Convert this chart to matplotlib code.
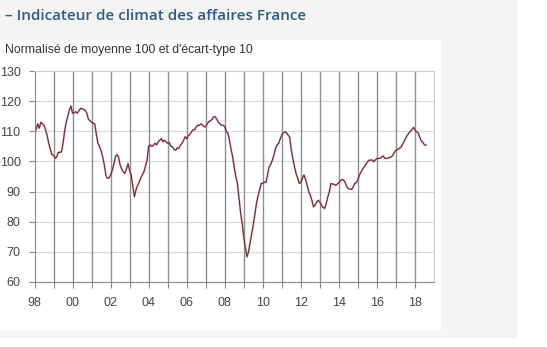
import matplotlib
matplotlib.use("Agg")
import matplotlib.pyplot as plt
from matplotlib.patches import Rectangle
import numpy as np

# Monthly business climate indicator, Jan 1998 - Aug 2018
values = [
    # 1998
    108.5, 110.5, 112.5, 111.0, 113.0, 112.5, 112.0, 110.5, 108.5, 106.0, 104.0, 102.3,
    # 1999
    102.0, 101.0, 101.5, 103.0, 103.0, 103.2, 106.0, 110.0, 113.0, 115.0, 117.0, 118.4,
    # 2000
    116.0, 116.2, 116.5, 116.0, 116.8, 117.6, 117.5, 117.2, 117.0, 116.0, 114.0, 113.5,
    # 2001
    113.0, 112.6, 112.5, 109.0, 106.0, 105.0, 103.5, 101.5, 99.0, 95.5, 94.4, 94.5,
    # 2002
    95.5, 97.0, 99.0, 101.5, 102.3, 101.5, 98.8, 97.5, 96.5, 96.0, 97.5, 99.3,
    # 2003
    97.0, 95.5, 92.0, 88.3, 90.5, 92.0, 93.0, 94.5, 95.5, 96.5, 98.5, 100.4,
    # 2004
    105.0, 105.5, 105.0, 105.4, 106.0, 105.5, 106.5, 107.0, 107.6, 106.5, 107.0, 106.5,
    # 2005
    106.0, 106.3, 105.0, 104.9, 104.0, 103.7, 104.5, 104.3, 105.4, 106.0, 107.0, 108.2,
    # 2006
    107.5, 108.5, 109.0, 109.8, 110.5, 110.5, 111.5, 112.0, 112.0, 112.5, 112.0, 111.5,
    # 2007
    111.5, 112.5, 113.2, 113.5, 114.0, 114.8, 114.8, 114.0, 113.0, 112.5, 112.0, 112.0,
    # 2008
    111.5, 110.0, 109.3, 107.0, 104.0, 101.5, 98.0, 95.0, 92.7, 88.0, 83.0, 79.4,
    # 2009
    75.0, 71.5, 68.3, 70.0, 73.0, 76.0, 79.0, 82.5, 86.0, 88.5, 90.5, 92.7,
    # 2010
    92.7, 93.2, 93.0, 95.5, 98.2, 99.0, 100.4, 102.0, 104.3, 105.5, 106.0, 107.5,
    # 2011
    108.7, 109.5, 109.8, 109.5, 108.7, 108.0, 103.7, 101.0, 98.2, 96.0, 94.5, 92.7,
    # 2012
    93.0, 94.5, 95.5, 94.0, 92.1, 90.0, 88.8, 87.0, 84.9, 85.5, 86.5, 87.1,
    # 2013
    86.5, 85.5, 84.8, 84.4, 86.0, 88.2, 90.0, 92.7, 92.5, 92.4, 92.1, 92.5,
    # 2014
    93.0, 93.6, 94.0, 93.8, 93.0, 91.6, 91.0, 90.8, 90.7, 91.5, 92.7, 93.0,
    # 2015
    94.0, 95.5, 96.5, 97.5, 98.2, 99.0, 99.8, 100.4, 100.4, 100.5, 99.9, 100.5,
    # 2016
    101.0, 101.0, 101.0, 101.5, 101.8, 101.0, 101.0, 101.2, 101.3, 101.5, 102.0, 103.0,
    # 2017
    103.7, 104.0, 104.3, 104.6, 105.5, 106.5, 107.6, 108.5, 109.3, 110.0, 110.5, 111.3,
    # 2018
    110.5, 109.8, 109.5, 108.0, 106.7, 106.3, 105.5, 105.4,
]
start_year = 1998
tick_years = list(range(1998, 2019, 2))
tick_labels = ["98", "00", "02", "04", "06", "08", "10", "12", "14", "16", "18"]
y_ticks = [60, 70, 80, 90, 100, 110, 120, 130]

title = "– Indicateur de climat des affaires France"
subtitle = "Normalisé de moyenne 100 et d'écart-type 10"

W, H = 547, 347
fig = plt.figure(figsize=(W / 100, H / 100), dpi=100, facecolor="white")

def px_rect(x0, y0, x1, y1, color):
    fig.patches.append(Rectangle((x0 / W, 1 - y1 / H), (x1 - x0) / W, (y1 - y0) / H,
                                 transform=fig.transFigure, facecolor=color,
                                 edgecolor="none", zorder=-10))

px_rect(0, 0, 517, 338, "#f4f4f4")
px_rect(0, 40, 441, 331, "#ffffff")

# axes in pixel coords
L, R, T, B = 34.5, 434, 71, 282
ax = fig.add_axes([L / W, 1 - B / H, (R - L) / W, (B - T) / H])
ax.set_facecolor("white")

x = start_year + np.arange(len(values)) / 12.0
ax.plot(x, values, color="#e06678", lw=1.4, alpha=0.55, solid_capstyle="round")
ax.plot(x, values, color="#5a2a30", lw=0.75)

ax.set_xlim(1998, 2019)
ax.set_ylim(60, 130)
ax.set_yticks(y_ticks)
ax.set_xticks(range(1998, 2019), minor=True)
ax.set_xticks(tick_years)
ax.set_xticklabels(tick_labels)

for yy in y_ticks:
    ax.axhline(yy, color="#d8d8d8", lw=0.8, zorder=0)
for xx in range(1999, 2019):
    ax.axvline(xx, color="#8f8f8f", lw=1.0, zorder=0)

for s in ["top", "right"]:
    ax.spines[s].set_color("#cfcfcf")
    ax.spines[s].set_linewidth(0.8)
for s in ["left", "bottom"]:
    ax.spines[s].set_color("#888888")
    ax.spines[s].set_linewidth(0.8)

ax.tick_params(axis="both", which="both", direction="out", color="#888888",
               labelsize=9, labelcolor="#444444", width=0.8)
ax.tick_params(axis="x", which="both", length=4, pad=7)
ax.tick_params(axis="y", length=4, pad=6)
for lab in ax.get_xticklabels() + ax.get_yticklabels():
    lab.set_fontfamily("Liberation Sans")

fig.text(5 / W, 1 - 16 / H, title, fontsize=11, color="#2f5a8a",
         fontfamily="Open Sans", fontweight="semibold", va="center", ha="left")
fig.text(5 / W, 1 - 50 / H, subtitle, fontsize=8.8, color="#333333",
         fontfamily="Liberation Sans", va="center", ha="left")

fig.savefig("out.png", dpi=100)
